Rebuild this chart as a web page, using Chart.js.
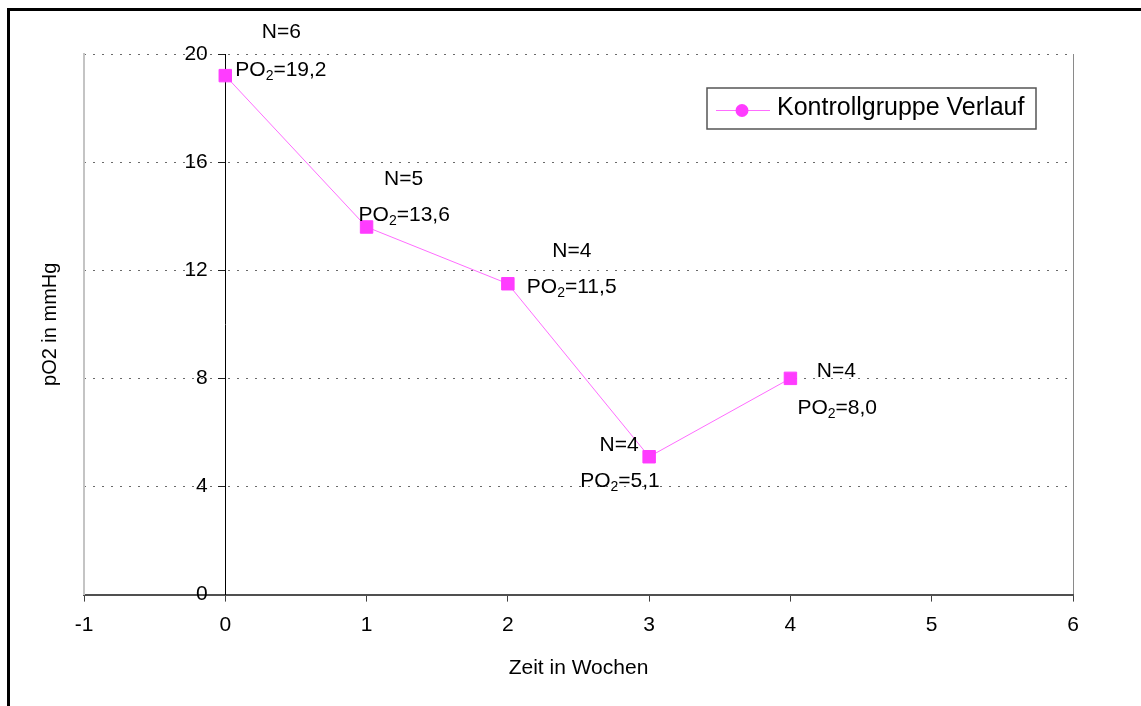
<!DOCTYPE html>
<html>
<head>
<meta charset="utf-8">
<script src="https://cdn.jsdelivr.net/npm/chart.js@4.4.1/dist/chart.umd.min.js"></script>
<style>
  html, body { margin: 0; padding: 0; background: #fff; overflow: hidden; width: 1141px; height: 706px; }
  #frame { position: absolute; left: 7px; top: 8px; width: 1300px; height: 900px; border: 3px solid #000; }
  #chart { position: absolute; left: 0; top: 0; }
</style>
</head>
<body>
<div id="frame"></div>
<canvas id="chart" width="1141" height="706"></canvas>
<script>
// data
const weeks = [0, 1, 2, 3, 4];
const po2Values = [19.2, 13.6, 11.5, 5.1, 8.0];
const nCounts = [6, 5, 4, 4, 4];
const seriesName = "Kontrollgruppe Verlauf";

// label placement relative to each point (pixels)
const nOffsets = [[56, -43], [37, -48], [64, -33], [-30, -12], [46, -7]];
const poOffsets = [[10, -5], [-8, -12], [19, 3], [-69, 24], [7, 30]];

const FONT = "'Liberation Sans', Arial, sans-serif";
const MAGENTA = "#ff3cff";
const LINE = "#ff6cff";

Chart.defaults.font.family = FONT;
Chart.defaults.color = "#000";

const pointLabels = {
  id: "pointLabels",
  afterDatasetsDraw(chart) {
    const ctx = chart.ctx;
    const meta = chart.getDatasetMeta(0);
    ctx.save();
    ctx.fillStyle = "#000";
    ctx.textBaseline = "middle";
    meta.data.forEach((pt, i) => {
      // N= label, centred
      ctx.font = "21px " + FONT;
      ctx.textAlign = "center";
      ctx.fillText("N=" + nCounts[i], pt.x + nOffsets[i][0], pt.y + nOffsets[i][1]);
      // PO2= label with subscript
      ctx.textAlign = "left";
      let x = pt.x + poOffsets[i][0];
      const y = pt.y + poOffsets[i][1];
      ctx.font = "21px " + FONT;
      ctx.fillText("PO", x, y);
      x += ctx.measureText("PO").width;
      ctx.font = "14px " + FONT;
      ctx.fillText("2", x, y + 6);
      x += ctx.measureText("2").width;
      ctx.font = "21px " + FONT;
      ctx.fillText("=" + po2Values[i].toFixed(1).replace(".", ","), x, y);
    });
    ctx.restore();
  },
  afterDraw(chart) {
    // boxed legend inside the plot
    const ctx = chart.ctx;
    const ds = chart.data.datasets[0];
    const bx = 707, by = 88, bw = 329, bh = 41;
    ctx.save();
    ctx.fillStyle = "#fff";
    ctx.fillRect(bx, by, bw, bh);
    ctx.strokeStyle = "#555";
    ctx.lineWidth = 1.5;
    ctx.strokeRect(bx, by, bw, bh);
    ctx.strokeStyle = ds.borderColor;
    ctx.lineWidth = 1;
    ctx.beginPath();
    ctx.moveTo(716, 110.5);
    ctx.lineTo(770, 110.5);
    ctx.stroke();
    ctx.fillStyle = ds.pointBackgroundColor;
    ctx.beginPath();
    ctx.arc(742, 110.5, 6.5, 0, Math.PI * 2);
    ctx.fill();
    ctx.fillStyle = "#000";
    ctx.font = "25px " + FONT;
    ctx.textBaseline = "middle";
    ctx.textAlign = "left";
    ctx.fillText(ds.label, 777, 108);
    ctx.restore();
  }
};

new Chart(document.getElementById("chart"), {
  type: "line",
  data: {
    datasets: [{
      label: seriesName,
      data: weeks.map((w, i) => ({ x: w, y: po2Values[i] })),
      borderColor: LINE,
      borderWidth: 1,
      pointStyle: "rect",
      pointRadius: 8.8,
      pointBackgroundColor: MAGENTA,
      pointBorderColor: MAGENTA,
      pointBorderWidth: 1,
      tension: 0,
      xAxisID: "x",
      yAxisID: "y"
    }]
  },
  options: {
    responsive: false,
    devicePixelRatio: 1,
    animation: false,
    layout: { padding: { left: 34, top: 54, right: 68, bottom: 21.6 } },
    plugins: { legend: { display: false }, tooltip: { enabled: false } },
    scales: {
      x: {
        type: "linear",
        position: "bottom",
        min: -1,
        max: 6,
        ticks: { stepSize: 1, padding: 11, font: { size: 21 } },
        grid: {
          color: c => (c.tick && c.tick.value === 6 ? "#8a8a8a" : "rgba(0,0,0,0)"),
          tickColor: "#404040",
          tickLength: 7,
          lineWidth: 1
        },
        border: { color: "#505050", width: 2 },
        title: { display: true, text: "Zeit in Wochen", font: { size: 21 }, padding: { top: 6.4, bottom: 4 } }
      },
      y: {
        type: "linear",
        position: { x: 0 },
        min: 0,
        max: 20,
        ticks: { stepSize: 4, font: { size: 21 }, callback: v => v + "   " },
        grid: { color: "#6a6a6a", lineWidth: 1, tickColor: "#202020", tickLength: 7 },
        border: { color: "#000", width: 1, dash: [2, 7] }
      },
      yt: {
        type: "linear",
        position: "left",
        min: 0,
        max: 20,
        ticks: { display: false },
        grid: { display: false, drawTicks: false },
        border: { display: true, color: "#c4c4c4", width: 2 },
        title: { display: true, text: "pO2 in mmHg", font: { size: 20 }, padding: { top: 4, bottom: 22 } }
      }
    }
  },
  plugins: [pointLabels]
});
</script>
</body>
</html>
